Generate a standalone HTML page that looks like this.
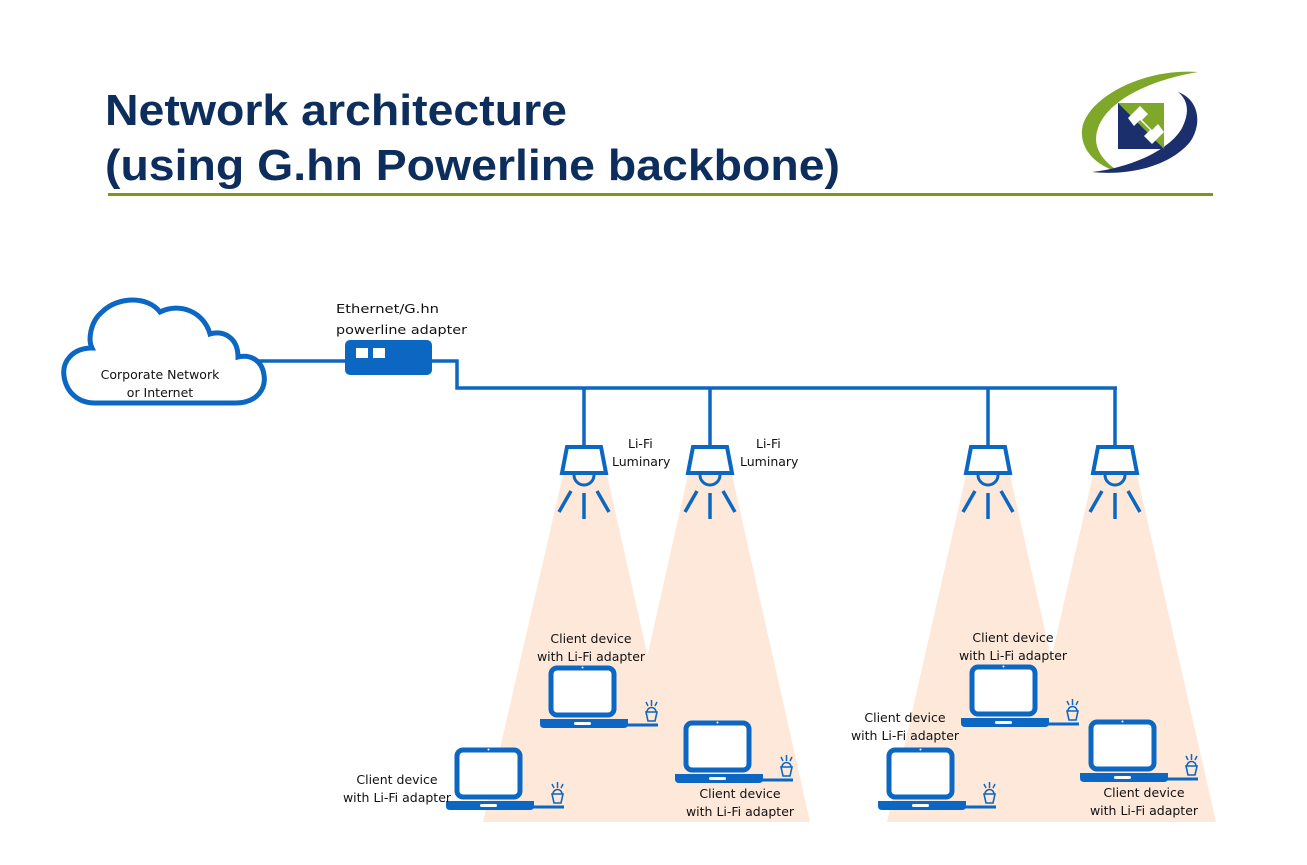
<!DOCTYPE html>
<html><head><meta charset="utf-8"><style>
html,body{margin:0;padding:0;background:#fff;}
svg{display:block;font-family:"Liberation Sans",sans-serif;}
.l{font-family:"DejaVu Sans","Liberation Sans",sans-serif;font-size:12.5px;fill:#111;}
</style></head><body>
<svg width="1307" height="865" viewBox="0 0 1307 865" xmlns="http://www.w3.org/2000/svg">
<defs>
<g id="lum">
<line x1="0" y1="-86" x2="0" y2="-28" stroke="#0b67c2" stroke-width="3.5"/>
<path d="M-17,-27 L17,-27 L22,-1 L-22,-1 Z" fill="#fff" stroke="#0b67c2" stroke-width="4" stroke-linejoin="miter"/>
<path d="M-10,1 A10,10 0 0 0 10,1" fill="none" stroke="#0b67c2" stroke-width="3"/>
<g stroke="#0b67c2" stroke-width="3.5" stroke-linecap="butt">
<line x1="0" y1="19" x2="0" y2="45"/>
<line x1="-13" y1="17" x2="-25" y2="38"/>
<line x1="13" y1="17" x2="25" y2="38"/>
</g>
</g>
<g id="lap">
<rect x="11" y="2" width="63" height="47" rx="6" fill="#fff" stroke="#0b67c2" stroke-width="5"/>
<circle cx="42.5" cy="1.5" r="1" fill="#fff"/>
<path d="M0,53 L88,53 L88,58 Q88,62 84,62 L4,62 Q0,62 0,58 Z" fill="#0b67c2"/>
<rect x="34" y="56" width="17" height="3" rx="1.5" fill="#fff"/>
<line x1="86" y1="59" x2="118" y2="59" stroke="#0b67c2" stroke-width="3"/>
<path d="M106,46 L117,46 L115,55 L108,55 Z" fill="none" stroke="#0b67c2" stroke-width="1.6"/>
<path d="M107,46 A4.5,4.5 0 0 1 116,46" fill="none" stroke="#0b67c2" stroke-width="1.6"/>
<g stroke="#0b67c2" stroke-width="1.5"><line x1="111.5" y1="34" x2="111.5" y2="40"/><line x1="106" y1="36" x2="108" y2="40"/><line x1="117" y1="36" x2="115" y2="40"/></g>
</g>
</defs>

<text x="105" y="125" font-size="44" font-weight="bold" fill="#0d2e5c" textLength="462" lengthAdjust="spacingAndGlyphs">Network architecture</text>
<text x="105" y="180" font-size="44" font-weight="bold" fill="#0d2e5c" textLength="735" lengthAdjust="spacingAndGlyphs">(using G.hn Powerline backbone)</text>
<rect x="108" y="193" width="1105" height="3" fill="#7a9a12"/>

<!-- logo -->
<path d="M1198,72 C1140,68 1085,100 1082,130 C1080,152 1100,168 1120,172 C1100,160 1092,145 1098,128 C1108,100 1150,80 1198,72 Z" fill="#7fa82a"/>
<path d="M1178,92 C1200,100 1202,125 1190,142 C1170,166 1130,176 1092,172 C1130,168 1170,150 1182,128 C1190,112 1188,100 1178,92 Z" fill="#1a2f6b"/>
<rect x="1118" y="103" width="46" height="46" fill="#1a2f6b"/>
<path d="M1118,103 L1164,103 L1164,149 Z" fill="#7fa82a"/>
<path d="M1128,118 L1140,106 L1148,114 L1142,120 L1152,130 L1158,124 L1164,132 L1152,144 L1144,136 L1150,130 L1140,120 L1134,126 Z" fill="#fff"/>

<!-- cones -->
<g fill="#fde8d9">
<polygon points="563,475 607,475 685,822 483,822"/>
<polygon points="688,475 732,475 810,822 610,822"/>
<polygon points="966,475 1010,475 1088,822 887,822"/>
<polygon points="1093,475 1137,475 1216,822 1014,822"/>
</g>

<!-- cloud -->
<path d="M95,403 L235,403 C258,403 266,388 264,375 C262,360 250,354 238,357 C238,338 224,330 210,334 C204,312 180,302 160,312 C148,296 118,296 102,312 C90,322 88,340 92,348 C72,348 62,362 64,376 C66,392 78,403 95,403 Z" fill="#fff" stroke="#0b67c2" stroke-width="5"/>
<text class="l" x="160" y="379" text-anchor="middle" font-size="12">Corporate Network</text>
<text class="l" x="160" y="397" text-anchor="middle" font-size="12">or Internet</text>

<!-- wires -->
<g stroke="#0b67c2" stroke-width="3.5" fill="none">
<line x1="255" y1="361" x2="346" y2="361"/>
<polyline points="430,361 457,361 457,388 1117,388"/>
</g>
<rect x="345" y="340" width="87" height="35" rx="5" fill="#0b67c2"/>
<rect x="356" y="348" width="12" height="10" fill="#fff"/>
<rect x="373" y="348" width="12" height="10" fill="#fff"/>
<text class="l" x="336" y="313" font-size="15" textLength="103" lengthAdjust="spacingAndGlyphs">Ethernet/G.hn</text>
<text class="l" x="336" y="334" font-size="15" textLength="131" lengthAdjust="spacingAndGlyphs">powerline adapter</text>

<use href="#lum" x="584" y="474"/>
<use href="#lum" x="710" y="474"/>
<use href="#lum" x="988" y="474"/>
<use href="#lum" x="1115" y="474"/>
<text class="l" x="628" y="448">Li-Fi</text>
<text class="l" x="612" y="466">Luminary</text>
<text class="l" x="756" y="448">Li-Fi</text>
<text class="l" x="740" y="466">Luminary</text>

<use href="#lap" x="540" y="666"/>
<use href="#lap" x="675" y="721"/>
<use href="#lap" x="446" y="748"/>
<use href="#lap" x="878" y="748"/>
<use href="#lap" x="961" y="665"/>
<use href="#lap" x="1080" y="720"/>

<text class="l" x="591" y="643" text-anchor="middle">Client device</text>
<text class="l" x="591" y="661" text-anchor="middle">with Li-Fi adapter</text>
<text class="l" x="397" y="784" text-anchor="middle">Client device</text>
<text class="l" x="397" y="802" text-anchor="middle">with Li-Fi adapter</text>
<text class="l" x="740" y="798" text-anchor="middle">Client device</text>
<text class="l" x="740" y="816" text-anchor="middle">with Li-Fi adapter</text>
<text class="l" x="905" y="722" text-anchor="middle">Client device</text>
<text class="l" x="905" y="740" text-anchor="middle">with Li-Fi adapter</text>
<text class="l" x="1013" y="642" text-anchor="middle">Client device</text>
<text class="l" x="1013" y="660" text-anchor="middle">with Li-Fi adapter</text>
<text class="l" x="1144" y="797" text-anchor="middle">Client device</text>
<text class="l" x="1144" y="815" text-anchor="middle">with Li-Fi adapter</text>
</svg>
</body></html>
